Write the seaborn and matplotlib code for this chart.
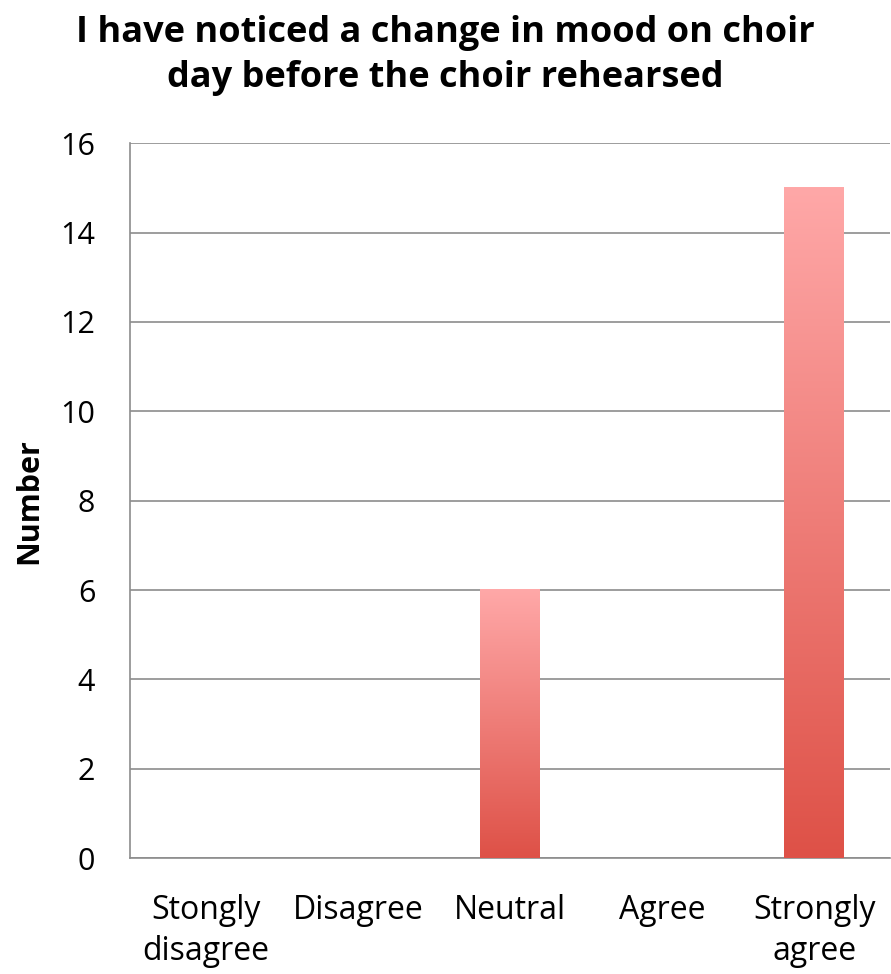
import numpy as np
import matplotlib.pyplot as plt
import matplotlib.colors as mcolors
import seaborn as sns

# --- données ---
categories = ['Stongly\ndisagree', 'Disagree', 'Neutral', 'Agree', 'Strongly\nagree']
valeurs = [0, 0, 6, 0, 15]
titre = 'I have noticed a change in mood on choir\nday before the choir rehearsed'

sns.set_style('white')
plt.rcParams['font.family'] = ['Open Sans', 'DejaVu Sans']
plt.rcParams['text.color'] = 'black'
plt.rcParams['axes.labelcolor'] = 'black'
plt.rcParams['xtick.color'] = 'black'
plt.rcParams['ytick.color'] = 'black'

fig = plt.figure(figsize=(8.91, 9.74), dpi=100)
ax = fig.add_axes([0.146, 0.119, 0.853, 0.734])

sns.barplot(x=categories, y=valeurs, ax=ax, width=0.39, color='#e06058')

# dégradé rose clair -> rouge sur chaque barre
cmap = mcolors.LinearSegmentedColormap.from_list('grad', ['#de5147', '#ffa8a8'])
grad = np.linspace(0, 1, 256).reshape(-1, 1)
for p in ax.patches:
    h = p.get_height()
    p.set_visible(False)
    if h <= 0:
        continue
    x0 = p.get_x()
    w = p.get_width()
    ax.imshow(grad, cmap=cmap, origin='lower', aspect='auto',
              extent=(x0, x0 + w, 0, h), zorder=3)

ax.set_xlim(-0.5, 4.5)
ax.set_ylim(0, 16)
ax.set_yticks(range(0, 17, 2))
ax.yaxis.grid(True, color='#8c8c8c', linewidth=1.2)
ax.set_axisbelow(True)

# séparateurs de catégories sur l'axe x
ax.set_xticks(np.arange(-0.5, 5, 1), minor=False)
ax.set_xticklabels([])
ax.set_xticks(range(5), minor=True)
ax.set_xticklabels(categories, minor=True, fontsize=23, linespacing=1.3)
ax.tick_params(axis='x', which='major', direction='out', length=14, width=1.2, color='#8c8c8c')
ax.tick_params(axis='x', which='minor', length=0, pad=26)
ax.tick_params(axis='y', direction='out', length=12, width=1.2, color='#8c8c8c',
               labelsize=22, pad=13, labelcolor='black')

for s in ['top', 'right']:
    ax.spines[s].set_visible(False)
for s in ['left', 'bottom']:
    ax.spines[s].set_color('#8c8c8c')
    ax.spines[s].set_linewidth(1.2)

ax.set_ylabel('Number', fontsize=22, fontweight='bold')
ax.yaxis.set_label_coords(-0.113, 0.5)
fig.suptitle(titre, fontsize=26, fontweight='bold', y=0.985, linespacing=1.35)

plt.savefig('out.png', dpi=100)
